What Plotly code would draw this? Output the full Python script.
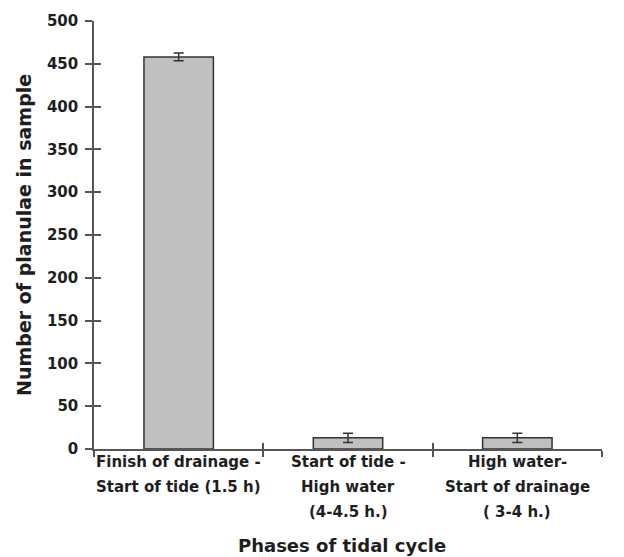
import plotly.graph_objects as go

categories = ["Finish of drainage -<br>Start of tide (1.5 h)",
              "Start of tide -<br>High water<br>(4-4.5 h.)",
              "High water-<br>Start of drainage<br>( 3-4 h.)"]
values = [458, 13, 13]
errors = [4.5, 5.5, 5.5]
y_ticks = [0, 50, 100, 150, 200, 250, 300, 350, 400, 450, 500]

FONT = "DejaVu Sans, Liberation Sans, Arial, sans-serif"
TXT = "#1e1e1e"
AX = "#555555"

fig = go.Figure()
fig.add_trace(go.Bar(
    x=categories, y=values, width=0.41,
    marker=dict(color="#c0c0c0", line=dict(color="#333333", width=1.5)),
    error_y=dict(type="data", array=errors, color="#333333", thickness=1.5, width=5),
    hoverinfo="skip", showlegend=False))
# invisible copy on overlay axes so that inside ticks get drawn
fig.add_trace(go.Bar(x=categories, y=values, width=0.41, opacity=0, xaxis="x2", yaxis="y2",
                     hoverinfo="skip", showlegend=False))

common_y = dict(range=[0, 500], tickvals=y_ticks, showgrid=False, zeroline=False,
                ticklen=7, tickwidth=1.5, tickcolor=AX)
fig.update_layout(
    width=624, height=557,
    margin=dict(l=94, r=22, t=17, b=108),
    plot_bgcolor="white", paper_bgcolor="white",
    font=dict(family=FONT, color=TXT),
    xaxis=dict(type="category", range=[-0.5, 2.5], tickson="boundaries", ticks="outside",
               ticklen=6, tickwidth=1.5, tickcolor=AX, showline=True, linecolor=AX,
               linewidth=1.5, showticklabels=False, showgrid=False),
    xaxis2=dict(type="category", range=[-0.5, 2.5], tickson="boundaries", ticks="inside",
                ticklen=6, tickwidth=1.5, tickcolor=AX, overlaying="x", anchor="y",
                showticklabels=False, showgrid=False, showline=False),
    yaxis=dict(ticks="outside", showline=True, linecolor=AX, linewidth=1.5,
               ticklabelstandoff=4,
               tickfont=dict(family=FONT, size=15, color=TXT, weight="bold"), **common_y),
    yaxis2=dict(ticks="inside", overlaying="y", anchor="x", side="left",
                showticklabels=False, showline=False, **common_y),
    bargap=0.5,
)

# category labels (multi-line, wider spacing)
for cat in categories:
    lines = cat.split("<br>")
    for i, ln in enumerate(lines):
        fig.add_annotation(x=cat, xref="x", y=0, yref="paper", yanchor="middle",
                           yshift=-13 - 25 * i, text=ln, showarrow=False,
                           font=dict(family=FONT, size=15, color=TXT, weight="bold"))

fig.add_annotation(x=0.488, xref="paper", y=0, yref="paper", yanchor="middle", yshift=-96,
                   text="Phases of tidal cycle", showarrow=False,
                   font=dict(family=FONT, size=18, color=TXT, weight="bold"))
fig.add_annotation(x=-0.138, xref="paper", xanchor="center", y=0.5, yref="paper",
                   text="Number of planulae in sample", textangle=-90, showarrow=False,
                   font=dict(family=FONT, size=19, color=TXT, weight="bold"))

fig.write_html("out.html")
